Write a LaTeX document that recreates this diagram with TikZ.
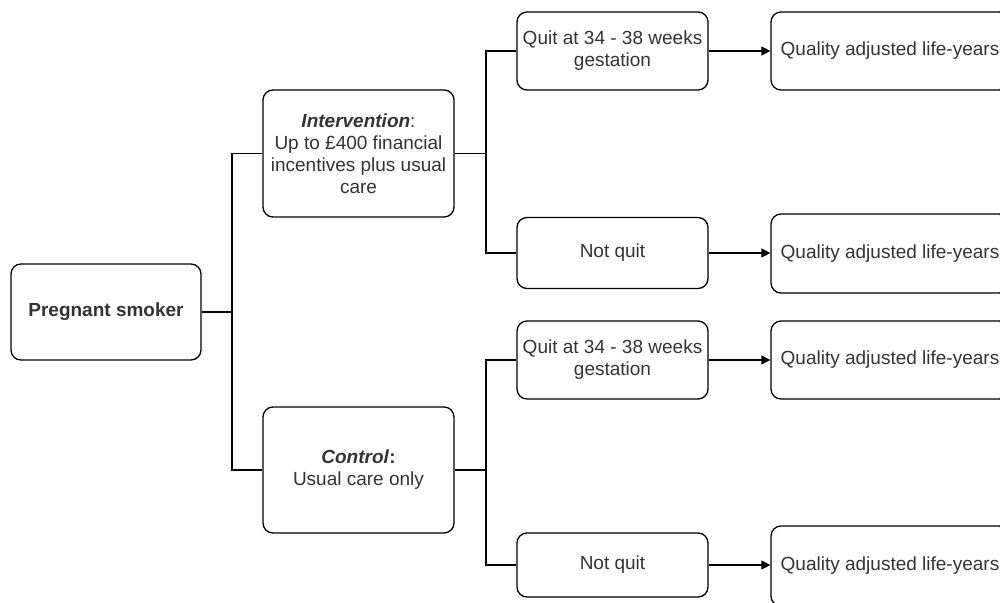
\documentclass[tikz,border=0pt]{standalone}
\usepackage{fontspec}
\setmainfont{Liberation Sans}
\usetikzlibrary{arrows.meta}
\begin{document}
\begin{tikzpicture}[x=1pt,y=-1pt,
  box/.style={draw=black, line width=1.3pt, rounded corners=10pt, align=center,
    text=black!80, font=\fontsize{19}{22}\selectfont, inner sep=0pt},
  conn/.style={draw=black, line width=1.3pt},
  arr/.style={conn, -{Triangle[length=9pt,width=9pt]}}]
\useasboundingbox (0,0) rectangle (1000,602);
\clip (0,0) rectangle (1000,602);
\node[box, minimum width=190pt, minimum height=96pt] (ps) at (106,312) {\textbf{Pregnant smoker}};
\node[box, minimum width=191pt, minimum height=127pt] (int) at (358.5,153.5) {\textbf{\textit{Intervention}}:\\Up to £400 financial\\incentives plus usual\\care};
\node[box, minimum width=191pt, minimum height=126pt] (ctl) at (358.5,470) {\textbf{\textit{Control}:}\\Usual care only};
\node[box, minimum width=191pt, minimum height=78pt] (q1) at (612.5,51) {Quit at 34 - 38 weeks\\gestation};
\node[box, minimum width=191pt, minimum height=71pt] (n1) at (612.5,253) {Not quit};
\node[box, minimum width=191pt, minimum height=78pt] (q2) at (612.5,360) {Quit at 34 - 38 weeks\\gestation};
\node[box, minimum width=191pt, minimum height=64pt] (n2) at (612.5,565) {Not quit};
\node[box, minimum width=238pt, minimum height=78pt] (Q1) at (890,51) {Quality adjusted life-years};
\node[box, minimum width=238pt, minimum height=79pt] (Q2) at (890,253.5) {Quality adjusted life-years};
\node[box, minimum width=238pt, minimum height=78pt] (Q3) at (890,360) {Quality adjusted life-years};
\node[box, minimum width=238pt, minimum height=80pt] (Q4) at (890,566) {Quality adjusted life-years};
\coordinate (j1) at (232,312);
\coordinate (j2) at (486,153.5);
\coordinate (j3) at (486,470);
\draw[conn] (ps.east) -- (j1);
\draw[conn] (j1) |- (int.west);
\draw[conn] (j1) |- (ctl.west);
\draw[conn] (int.east) -- (j2);
\draw[conn] (j2) |- (q1.west);
\draw[conn] (j2) |- (n1.west);
\draw[conn] (ctl.east) -- (j3);
\draw[conn] (j3) |- (q2.west);
\draw[conn] (j3) |- (n2.west);
\draw[arr] (q1.east) -- (q1.east -| Q1.west);
\draw[arr] (n1.east) -- (n1.east -| Q2.west);
\draw[arr] (q2.east) -- (q2.east -| Q3.west);
\draw[arr] (n2.east) -- (n2.east -| Q4.west);
\end{tikzpicture}
\end{document}
